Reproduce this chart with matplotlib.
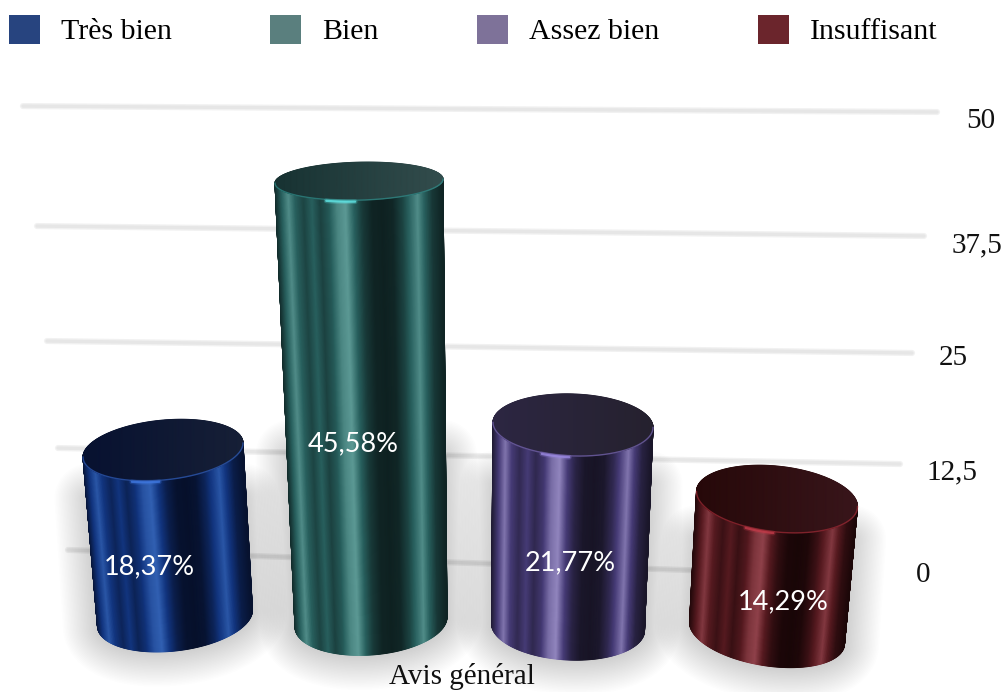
import numpy as np
import matplotlib
matplotlib.use('Agg')
import matplotlib.pyplot as plt
from matplotlib.colors import LinearSegmentedColormap
from matplotlib.patches import Patch

categories = ['Très bien', 'Bien', 'Assez bien', 'Insuffisant']
values = [18.37, 45.58, 21.77, 14.29]
value_labels = ['18,37%', '45,58%', '21,77%', '14,29%']
tick_values = [0, 12.5, 25, 37.5, 50]
tick_labels = ['0', '12,5', '25', '37,5', '50']
axis_title = 'Avis général'

legend_colors = ['#27447f', '#5a7f7e', '#7e7299', '#6b252c']
stripe_colors = [['#050d24', '#12357f', '#3565b8'],
                 ['#0c1c1c', '#28605e', '#62a09b'],
                 ['#14111f', '#463b76', '#9a8ec6'],
                 ['#140405', '#561a20', '#96464f']]
face_colors = [['#071130', '#161f36'], ['#173232', '#324c4c'],
               ['#2c2642', '#25212e'], ['#260809', '#38151a']]
rim_colors = ['#2f5fc0', '#2f8f8c', '#7a68b8', '#a02a35']
spot_colors = ['#3f78e0', '#60e6e6', '#9a88e0', '#c03a48']

# one value unit on screen, and where 0 sits, in pixels
PX = 9.3
ZERO = 572

# cylinder geometry in pixels, the picture has perspective so each one differs
top_x = [163, 359, 573, 777]
bot_x = [175, 371, 568, 767]
bot_y = [618, 622, 627, 633]
stretch = [0.983, 1.04, 0.998, 1.008]
top_a = [80, 84, 80, 80.5]
bot_a = [77.5, 76, 76.5, 77.5]
top_b = [30, 19, 31, 33]
bot_b = [33, 33, 33, 33]
top_tilt = [-7, -2, 2.5, 7.5]
bot_tilt = [-8, -5, 3.5, 10.5]
label_x = [149, 353, 570, 783]
label_frac = [0.305, 0.405, 0.32, 0.235]

# gridline ends
grid_left_x = [68, 58, 47, 37, 23]
grid_right_x = [690, 900, 912, 924, 937]
grid_left_dv = [2.37, 0.83, -0.16, -0.3, 0.1]
grid_right_dv = [0.2, -0.89, -1.45, -1.37, -0.54]
tick_x = [923, 952, 953, 977, 981]
tick_dv = [-0.3, -1.8, -2.0, -2.4, -1.5]

# brightness across a cylinder, left to right
stripe_pos = [0, .04, .08, .12, .17, .22, .27, .32, .37, .42, .47, .52, .58, .64, .7, .76, .81, .85, .89, .94, 1]
stripe_lev = [.12, .5, .85, .5, .3, .5, .28, .45, .8, .95, .5, .22, .06, .04, .08, .3, .6, .85, .5, .2, .06]

plt.rcParams['font.family'] = ['Liberation Serif', 'DejaVu Serif']

fig = plt.figure(figsize=(10.05, 6.92), dpi=100)
ax = fig.add_axes([0, 0, 1, 1])
ax.set_xlim(0, 1005)
ax.set_ylim((ZERO - 692) / PX, ZERO / PX)
ax.axis('off')


def arc(cx, cy, a, b, tilt, lower=True):
    """half an ellipse, left to right; cy in value units, the rest in pixels"""
    t = np.linspace(np.pi, 0, 240)
    sign = -1 if lower else 1
    x = cx + a * np.cos(t)
    y = cy + (sign * b * np.sin(t) - tilt * np.cos(t)) / PX
    return x, y


# gridlines
for i, v in enumerate(tick_values):
    xs = [grid_left_x[i], grid_right_x[i]]
    ys = [v + grid_left_dv[i], v + grid_right_dv[i]]
    ax.plot(xs, ys, color='#f1f1f1', lw=4.4, solid_capstyle='round', zorder=1)
    ax.plot(xs, ys, color='#e6e6e6', lw=2.4, solid_capstyle='round', zorder=1)
    ax.text(tick_x[i], v + tick_dv[i], tick_labels[i], fontsize=21, color='#111111',
            ha='center', va='center', zorder=6)

for i, value in enumerate(values):
    base = (ZERO - bot_y[i]) / PX
    top = base + value * stretch[i]

    bx, by = arc(bot_x[i], base, bot_a[i], bot_b[i], bot_tilt[i])
    tx, ty = arc(top_x[i], top, top_a[i], top_b[i], top_tilt[i])
    ux, uy = arc(top_x[i], top, top_a[i], top_b[i], top_tilt[i], lower=False)

    # soft shadow, only round the lower part of the cylinder
    sh = min(value * 0.7, 18)
    sx = np.r_[bx, bx[::-1] - (bot_x[i] - top_x[i]) * sh / value]
    sy = np.r_[by, np.full(bx.size, base + sh)]
    for w in np.linspace(2, 50, 24):
        ax.fill(sx, sy, facecolor='k', edgecolor='k', lw=w, alpha=0.006,
                joinstyle='round', zorder=2)

    # stripes
    xn = (tx - tx[0]) / (tx[-1] - tx[0])
    lev = np.interp(xn, stripe_pos, stripe_lev)
    cmap = LinearSegmentedColormap.from_list('stripe%d' % i, stripe_colors[i])
    X = np.vstack([bx, tx])
    Y = np.vstack([by, ty])
    ax.pcolormesh(X, Y, np.vstack([lev, lev]), shading='gouraud', cmap=cmap,
                  vmin=0, vmax=1, zorder=3)

    # top face
    fmap = LinearSegmentedColormap.from_list('face%d' % i, face_colors[i])
    ax.pcolormesh(np.vstack([tx, ux]), np.vstack([ty, uy]), np.vstack([xn, xn]),
                  shading='gouraud', cmap=fmap, vmin=0, vmax=1, zorder=4)
    ax.plot(tx, ty, color=rim_colors[i], lw=1.0, alpha=0.7, zorder=5)
    spot = (xn > 0.3) & (xn < 0.48)
    ax.plot(tx[spot], ty[spot] - 0.15, color=spot_colors[i], lw=3.5,
            solid_capstyle='round', alpha=0.25, zorder=5)
    ax.plot(tx[spot], ty[spot] - 0.15, color=spot_colors[i], lw=1.6,
            solid_capstyle='round', alpha=0.8, zorder=5)

    ax.text(label_x[i], base + label_frac[i] * value * stretch[i], value_labels[i],
            color='white', fontsize=19.5, family='Lato', ha='center', va='center', zorder=7)

ax.text(462, (ZERO - 677) / PX, axis_title, fontsize=21, color='#111111',
        ha='center', va='center', zorder=7)

handles = [Patch(facecolor=c, edgecolor='none', label=n) for c, n in zip(legend_colors, categories)]
ax.legend(handles=handles, loc='upper left', bbox_to_anchor=(9 / 1005, 1 - 15 / 692), ncols=4,
          frameon=False, fontsize=21.5, borderpad=0, borderaxespad=0, handlelength=1.04,
          handleheight=1.1, handletextpad=0.7, columnspacing=3.3)

fig.savefig('out.png', dpi=100)
